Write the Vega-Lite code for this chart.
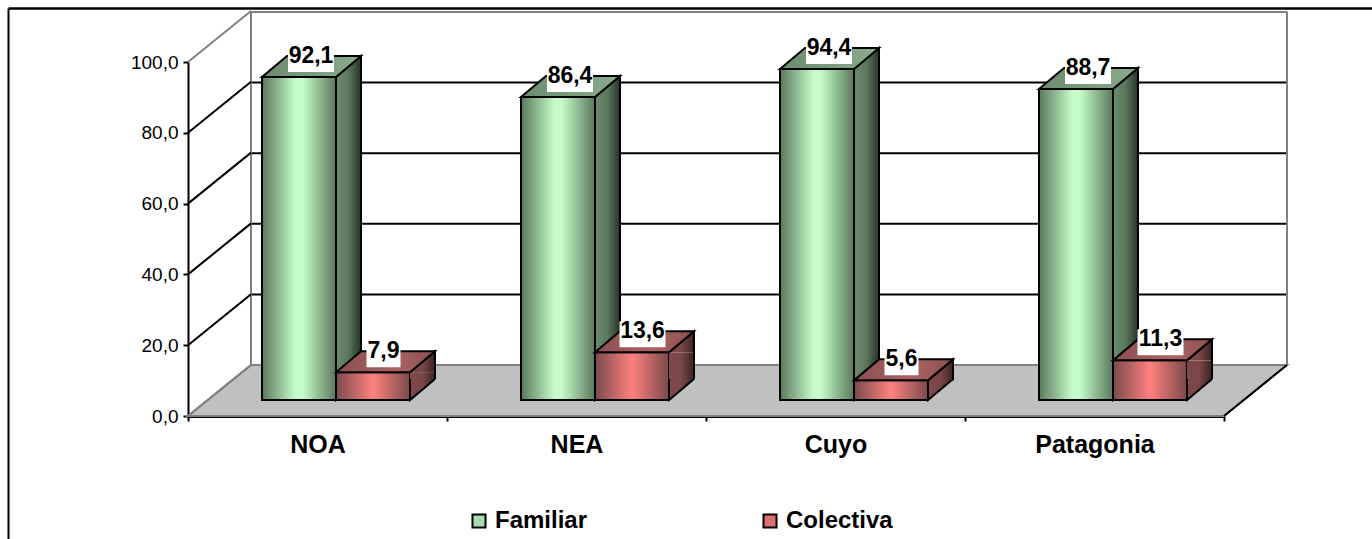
{
"$schema":"https://vega.github.io/schema/vega-lite/v6.json",
"width":1036,"height":354,
"autosize":{"type":"none"},
"padding":{"left":188,"top":62,"right":148,"bottom":123},
"background":"white",
"config":{"view":{"stroke":null},"locale":{"number":{"decimal":",","thousands":".","grouping":[3],"currency":["","€"]}}},
"datasets":{
"bars":[
{"region":"NOA","serie":"Familiar","value":92.1},
{"region":"NOA","serie":"Colectiva","value":7.9},
{"region":"NEA","serie":"Familiar","value":86.4},
{"region":"NEA","serie":"Colectiva","value":13.6},
{"region":"Cuyo","serie":"Familiar","value":94.4},
{"region":"Cuyo","serie":"Colectiva","value":5.6},
{"region":"Patagonia","serie":"Familiar","value":88.7},
{"region":"Patagonia","serie":"Colectiva","value":11.3}
],
"ticks":[{"tick":0},{"tick":20},{"tick":40},{"tick":60},{"tick":80},{"tick":100}]
},
"data":{"name":"bars"},
"resolve":{"scale":{"x":"independent","y":"independent","xOffset":"independent"},"axis":{"x":"independent","y":"independent"}},
"layer":[
{"data":{"name":"ticks"},"transform":[{"filter":"datum.tick==0"}],
 "mark":{"type":"point","shape":"M0,0 L63,-51 L1099,-51 L1036,0 Z","size":4,"filled":true,"fill":"#C0C0C0","stroke":"#808080","strokeWidth":2,"opacity":1},
 "encoding":{
  "x":{"datum":0,"type":"quantitative","scale":{"domain":[0,1],"range":[0,1036]},"axis":null},
  "y":{"datum":0,"type":"quantitative","scale":{"domain":[0,100],"range":[354,0]},"axis":null}}},
{"data":{"name":"ticks"},"transform":[{"filter":"datum.tick==0"}],
 "mark":{"type":"rule","opacity":0},
 "encoding":{
  "x":{"datum":0,"type":"quantitative","scale":{"domain":[0,1],"range":[-180,1184]},"axis":{"orient":"top","offset":54,"title":null,"labels":false,"ticks":false,"grid":false,"domainColor":"#000000","domainWidth":2.5}},
  "y":{"datum":0,"type":"quantitative","scale":{"domain":[0,1],"range":[477,-54]},"axis":{"orient":"left","offset":180,"title":null,"labels":false,"ticks":false,"grid":false,"domainColor":"#000000","domainWidth":2}}}},
{"data":{"name":"ticks"},
 "mark":{"type":"rule","strokeWidth":2},
 "encoding":{
  "x":{"datum":0,"type":"quantitative","scale":{"domain":[0,1],"range":[63,1099]},"axis":null},
  "x2":{"datum":1},
  "y":{"field":"tick","type":"quantitative","scale":{"domain":[0,100],"range":[303,-50]},"axis":null},
  "stroke":{"condition":{"test":"datum.tick==0||datum.tick==100","value":"#808080"},"value":"#000000"}}},
{"data":{"name":"ticks"},"transform":[{"filter":"datum.tick==0"}],
 "mark":{"type":"rule","stroke":"#808080","strokeWidth":2},
 "encoding":{
  "x":{"datum":0,"type":"quantitative","scale":{"domain":[0,1],"range":[63,1099]},"axis":null},
  "y":{"datum":0,"type":"quantitative","scale":{"domain":[0,100],"range":[303,-50]},"axis":null},
  "y2":{"datum":100}}},
{"data":{"name":"ticks"},"transform":[{"filter":"datum.tick==0"}],
 "mark":{"type":"rule","stroke":"#808080","strokeWidth":2},
 "encoding":{
  "x":{"datum":1,"type":"quantitative","scale":{"domain":[0,1],"range":[63,1099]},"axis":null},
  "y":{"datum":0,"type":"quantitative","scale":{"domain":[0,100],"range":[303,-50]},"axis":null},
  "y2":{"datum":100}}},
{"data":{"name":"ticks"},
 "mark":{"type":"rule","strokeWidth":2,"y2Offset":-51},
 "encoding":{
  "x":{"datum":0,"type":"quantitative","scale":{"domain":[0,1],"range":[0,63]},"axis":null},
  "x2":{"datum":1},
  "y":{"field":"tick","type":"quantitative","scale":{"domain":[0,100],"range":[354,0]},
   "axis":{"orient":"left","values":[0,20,40,60,80,100],"title":null,"format":".1f","grid":false,"domainColor":"#000000","domainWidth":2,"tickColor":"#000000","tickWidth":2,"tickSize":5,"labelFont":"Liberation Sans","labelFontSize":19,"labelColor":"#000000","labelPadding":5}},
  "y2":{"field":"tick"},
  "stroke":{"condition":{"test":"datum.tick==0||datum.tick==100","value":"#808080"},"value":"#000000"}}},
{"data":{"name":"ticks"},"transform":[{"filter":"datum.tick==0"}],
 "mark":{"type":"rule","stroke":"#000000","strokeWidth":2,"y2Offset":-51},
 "encoding":{
  "x":{"datum":0,"type":"quantitative","scale":{"domain":[0,1],"range":[1036,1099]},"axis":null},
  "x2":{"datum":1},
  "y":{"field":"tick","type":"quantitative","scale":{"domain":[0,100],"range":[354,0]},"axis":null},
  "y2":{"field":"tick"}}},
{"mark":{"type":"bar","opacity":0},
 "encoding":{
  "x":{"field":"region","type":"nominal","scale":{"domain":["NOA","NEA","Cuyo","Patagonia"],"paddingInner":0,"paddingOuter":0},
   "axis":{"orient":"bottom","title":null,"labelAngle":0,"tickBand":"extent","domainColor":"#000000","domainWidth":3,"tickColor":"#000000","tickWidth":2,"tickSize":5,"labelFont":"Liberation Sans","labelFontWeight":"bold","labelFontSize":25,"labelColor":"#000000","labelPadding":11,"grid":false}},
  "color":{"field":"serie","type":"nominal","scale":{"domain":["Familiar","Colectiva"],"range":["#a9dcac","#e07070"]},
   "legend":{"orient":"none","legendX":279,"legendY":447,"direction":"horizontal","columns":2,"columnPadding":170,"title":null,"symbolType":"square","symbolSize":170,"symbolStrokeColor":"#000000","symbolStrokeWidth":2,"symbolOpacity":1,"labelFont":"Liberation Sans","labelFontWeight":"bold","labelFontSize":24,"labelColor":"#000000","labelLimit":300,"labelOffset":4,
    "encoding":{"symbols":{"update":{"fill":{"signal":"datum.value=='Familiar'?{gradient:'linear',x1:0,x2:1,y1:0,y2:0,stops:[{offset:0,color:'#5a785c'},{offset:0.5,color:'#c5fcc8'},{offset:1,color:'#5a785c'}]}:{gradient:'linear',x1:0,x2:1,y1:0,y2:0,stops:[{offset:0,color:'#7a4a4a'},{offset:0.5,color:'#ff8080'},{offset:1,color:'#7a4a4a'}]}"},"stroke":{"value":"#000000"},"opacity":{"value":1}}}}}}}},

{"transform":[{"filter":"datum.serie=='Familiar'"}],
 "mark":{"type":"bar","y2Offset":-21,"stroke":null,"color":{"gradient":"linear","x1":0,"x2":1,"y1":0,"y2":0,"stops":[{"offset":0,"color":"#6c8c6e"},{"offset":0.5,"color":"#5a775c"},{"offset":1,"color":"#26332a"}]}},
 "encoding":{
  "x":{"field":"region","type":"nominal","scale":{"domain":["NOA","NEA","Cuyo","Patagonia"],"paddingInner":0,"paddingOuter":0},"axis":null},
  "xOffset":{"field":"serie","type":"nominal","scale":{"domain":["Familiar","Colectiva"],"range":[148,247],"paddingInner":0.662,"paddingOuter":0}},
  "y":{"field":"value","type":"quantitative","stack":false,"scale":{"domain":[0,100],"range":[338,-12.7]},"axis":null},
  "y2":{"datum":0}}},
{"transform":[{"filter":"datum.serie=='Familiar'"}],
 "mark":{"type":"point","shape":"M0,0 L25,-21 L25,0","size":4,"filled":true,"opacity":1,"stroke":"#000000","strokeWidth":2,"fill":{"gradient":"linear","x1":0,"x2":1,"y1":0,"y2":0,"stops":[{"offset":0,"color":"#6c8c6e"},{"offset":0.5,"color":"#5a775c"},{"offset":1,"color":"#26332a"}]}},
 "encoding":{
  "x":{"field":"region","type":"nominal","scale":{"domain":["NOA","NEA","Cuyo","Patagonia"],"paddingInner":0,"paddingOuter":0},"axis":null},
  "xOffset":{"field":"serie","type":"nominal","scale":{"type":"point","domain":["Familiar","Colectiva"],"range":[148,222],"padding":0}},
  "y":{"field":"value","type":"quantitative","stack":false,"scale":{"domain":[0,100],"range":[338,-12.7]},"axis":null}}},
{"transform":[{"filter":"datum.serie=='Familiar'"}],
 "mark":{"type":"point","shape":"M25,-21 L0,0 L0,-21","size":4,"filled":true,"opacity":1,"stroke":"#000000","strokeWidth":2,"fill":{"gradient":"linear","x1":0,"x2":1,"y1":0,"y2":0,"stops":[{"offset":0,"color":"#6c8c6e"},{"offset":0.5,"color":"#5a775c"},{"offset":1,"color":"#26332a"}]}},
 "encoding":{
  "x":{"field":"region","type":"nominal","scale":{"domain":["NOA","NEA","Cuyo","Patagonia"],"paddingInner":0,"paddingOuter":0},"axis":null},
  "xOffset":{"field":"serie","type":"nominal","scale":{"type":"point","domain":["Familiar","Colectiva"],"range":[148,222],"padding":0}},
  "y":{"datum":0,"type":"quantitative","scale":{"domain":[0,100],"range":[338,-12.7]},"axis":null}}},
{"transform":[{"filter":"datum.serie=='Familiar'"}],
 "mark":{"type":"rule","stroke":"#000000","strokeWidth":2,"yOffset":-21,"y2Offset":-21},
 "encoding":{
  "x":{"field":"region","type":"nominal","scale":{"domain":["NOA","NEA","Cuyo","Patagonia"],"paddingInner":0,"paddingOuter":0},"axis":null},
  "xOffset":{"field":"serie","type":"nominal","scale":{"type":"point","domain":["Familiar","Colectiva"],"range":[173,247],"padding":0}},
  "y":{"field":"value","type":"quantitative","stack":false,"scale":{"domain":[0,100],"range":[338,-12.7]},"axis":null},
  "y2":{"datum":0}}},

{"transform":[{"filter":"datum.serie=='Familiar'"}],
 "mark":{"type":"bar","stroke":"#000000","strokeWidth":2,"color":{"gradient":"linear","x1":0,"x2":1,"y1":0,"y2":0,"stops":[{"offset":0,"color":"#5a785c"},{"offset":0.45,"color":"#c5fcc8"},{"offset":0.55,"color":"#c5fcc8"},{"offset":1,"color":"#5a785c"}]}},
 "encoding":{
  "x":{"field":"region","type":"nominal","scale":{"domain":["NOA","NEA","Cuyo","Patagonia"],"paddingInner":0,"paddingOuter":0},"axis":null},
  "xOffset":{"field":"serie","type":"nominal","scale":{"domain":["Familiar","Colectiva"],"range":[74,222],"paddingInner":0,"paddingOuter":0}},
  "y":{"field":"value","type":"quantitative","stack":false,"scale":{"domain":[0,100],"range":[338,-12.7]},"axis":null}}},
{"transform":[{"filter":"datum.serie=='Colectiva'"}],
 "mark":{"type":"bar","stroke":"#000000","strokeWidth":2,"color":{"gradient":"linear","x1":0,"x2":1,"y1":0,"y2":0,"stops":[{"offset":0,"color":"#7a4a4a"},{"offset":0.5,"color":"#ff8080"},{"offset":1,"color":"#7a4a4a"}]}},
 "encoding":{
  "x":{"field":"region","type":"nominal","scale":{"domain":["NOA","NEA","Cuyo","Patagonia"],"paddingInner":0,"paddingOuter":0},"axis":null},
  "xOffset":{"field":"serie","type":"nominal","scale":{"domain":["Familiar","Colectiva"],"range":[74,222],"paddingInner":0,"paddingOuter":0}},
  "y":{"field":"value","type":"quantitative","stack":false,"scale":{"domain":[0,100],"range":[338,-12.7]},"axis":null}}},
{"transform":[{"filter":"datum.serie=='Familiar'"}],
 "mark":{"type":"point","shape":"M0,0 L25,-21 L99,-21 L74,0 Z","size":4,"filled":true,"opacity":1,"stroke":"#000000","strokeWidth":2,"fill":{"gradient":"linear","x1":0,"x2":1,"y1":0,"y2":0,"stops":[{"offset":0,"color":"#6c8c6e"},{"offset":1,"color":"#8aab8c"}]}},
 "encoding":{
  "x":{"field":"region","type":"nominal","scale":{"domain":["NOA","NEA","Cuyo","Patagonia"],"paddingInner":0,"paddingOuter":0},"axis":null},
  "xOffset":{"field":"serie","type":"nominal","scale":{"type":"point","domain":["Familiar","Colectiva"],"range":[74,148],"padding":0}},
  "y":{"field":"value","type":"quantitative","stack":false,"scale":{"domain":[0,100],"range":[338,-12.7]},"axis":null}}},

{"transform":[{"filter":"datum.serie=='Colectiva'"}],
 "mark":{"type":"bar","y2Offset":-21,"stroke":null,"color":{"gradient":"linear","x1":0,"x2":1,"y1":0,"y2":0,"stops":[{"offset":0,"color":"#80494b"},{"offset":0.5,"color":"#7a4646"},{"offset":1,"color":"#3b2222"}]}},
 "encoding":{
  "x":{"field":"region","type":"nominal","scale":{"domain":["NOA","NEA","Cuyo","Patagonia"],"paddingInner":0,"paddingOuter":0},"axis":null},
  "xOffset":{"field":"serie","type":"nominal","scale":{"domain":["Familiar","Colectiva"],"range":[148,247],"paddingInner":0.662,"paddingOuter":0}},
  "y":{"field":"value","type":"quantitative","stack":false,"scale":{"domain":[0,100],"range":[338,-12.7]},"axis":null},
  "y2":{"datum":0}}},
{"transform":[{"filter":"datum.serie=='Colectiva'"}],
 "mark":{"type":"point","shape":"M25,-21 L0,0 L0,-21","size":4,"filled":true,"opacity":1,"stroke":"#000000","strokeWidth":2,"fill":{"gradient":"linear","x1":0,"x2":1,"y1":0,"y2":0,"stops":[{"offset":0,"color":"#80494b"},{"offset":0.5,"color":"#7a4646"},{"offset":1,"color":"#3b2222"}]}},
 "encoding":{
  "x":{"field":"region","type":"nominal","scale":{"domain":["NOA","NEA","Cuyo","Patagonia"],"paddingInner":0,"paddingOuter":0},"axis":null},
  "xOffset":{"field":"serie","type":"nominal","scale":{"type":"point","domain":["Familiar","Colectiva"],"range":[148,222],"padding":0}},
  "y":{"datum":0,"type":"quantitative","scale":{"domain":[0,100],"range":[338,-12.7]},"axis":null}}},
{"transform":[{"filter":"datum.serie=='Colectiva'"}],
 "mark":{"type":"point","shape":"M0,0 L25,-21 L25,0","size":4,"filled":true,"opacity":1,"stroke":"#000000","strokeWidth":2,"fill":{"gradient":"linear","x1":0,"x2":1,"y1":0,"y2":0,"stops":[{"offset":0,"color":"#80494b"},{"offset":0.5,"color":"#7a4646"},{"offset":1,"color":"#3b2222"}]}},
 "encoding":{
  "x":{"field":"region","type":"nominal","scale":{"domain":["NOA","NEA","Cuyo","Patagonia"],"paddingInner":0,"paddingOuter":0},"axis":null},
  "xOffset":{"field":"serie","type":"nominal","scale":{"type":"point","domain":["Familiar","Colectiva"],"range":[148,222],"padding":0}},
  "y":{"field":"value","type":"quantitative","stack":false,"scale":{"domain":[0,100],"range":[338,-12.7]},"axis":null}}},
{"transform":[{"filter":"datum.serie=='Colectiva'"}],
 "mark":{"type":"rule","stroke":"#000000","strokeWidth":2,"yOffset":-21,"y2Offset":-21},
 "encoding":{
  "x":{"field":"region","type":"nominal","scale":{"domain":["NOA","NEA","Cuyo","Patagonia"],"paddingInner":0,"paddingOuter":0},"axis":null},
  "xOffset":{"field":"serie","type":"nominal","scale":{"type":"point","domain":["Familiar","Colectiva"],"range":[173,247],"padding":0}},
  "y":{"field":"value","type":"quantitative","stack":false,"scale":{"domain":[0,100],"range":[338,-12.7]},"axis":null},
  "y2":{"datum":0}}},
{"transform":[{"filter":"datum.serie=='Colectiva'"}],
 "mark":{"type":"point","shape":"M0,0 L25,-21 L99,-21 L74,0 Z","size":4,"filled":true,"opacity":1,"stroke":"#000000","strokeWidth":2,"fill":{"gradient":"linear","x1":0,"x2":1,"y1":0,"y2":0,"stops":[{"offset":0,"color":"#8a4f50"},{"offset":0.6,"color":"#ad6263"},{"offset":1,"color":"#8a5050"}]}},
 "encoding":{
  "x":{"field":"region","type":"nominal","scale":{"domain":["NOA","NEA","Cuyo","Patagonia"],"paddingInner":0,"paddingOuter":0},"axis":null},
  "xOffset":{"field":"serie","type":"nominal","scale":{"type":"point","domain":["Familiar","Colectiva"],"range":[74,148],"padding":0}},
  "y":{"field":"value","type":"quantitative","stack":false,"scale":{"domain":[0,100],"range":[338,-12.7]},"axis":null}}},

{"mark":{"type":"point","size":4,"filled":true,"opacity":1,"fill":"#ffffff","stroke":null},
 "encoding":{
  "x":{"field":"region","type":"nominal","scale":{"domain":["NOA","NEA","Cuyo","Patagonia"],"paddingInner":0,"paddingOuter":0},"axis":null},
  "xOffset":{"field":"serie","type":"nominal","scale":{"type":"point","domain":["Familiar","Colectiva"],"range":[123,195.5],"padding":0}},
  "y":{"field":"value","type":"quantitative","stack":false,"scale":{"domain":[0,100],"range":[338,-12.7]},"axis":null},
  "shape":{"condition":{"test":"datum.value>=10","value":"M-23,-31 L23,-31 L23,-5 L-23,-5 Z"},"value":"M-17,-31 L17,-31 L17,-5 L-17,-5 Z"}}},
{"mark":{"type":"text","font":"Liberation Sans","fontWeight":"bold","fontSize":23,"color":"#000000","baseline":"middle","yOffset":-21},
 "encoding":{
  "x":{"field":"region","type":"nominal","scale":{"domain":["NOA","NEA","Cuyo","Patagonia"],"paddingInner":0,"paddingOuter":0},"axis":null},
  "xOffset":{"field":"serie","type":"nominal","scale":{"type":"point","domain":["Familiar","Colectiva"],"range":[123,195.5],"padding":0}},
  "y":{"field":"value","type":"quantitative","stack":false,"scale":{"domain":[0,100],"range":[338,-12.7]},"axis":null},
  "text":{"field":"value","type":"quantitative","format":".1f"}}}
]
}
